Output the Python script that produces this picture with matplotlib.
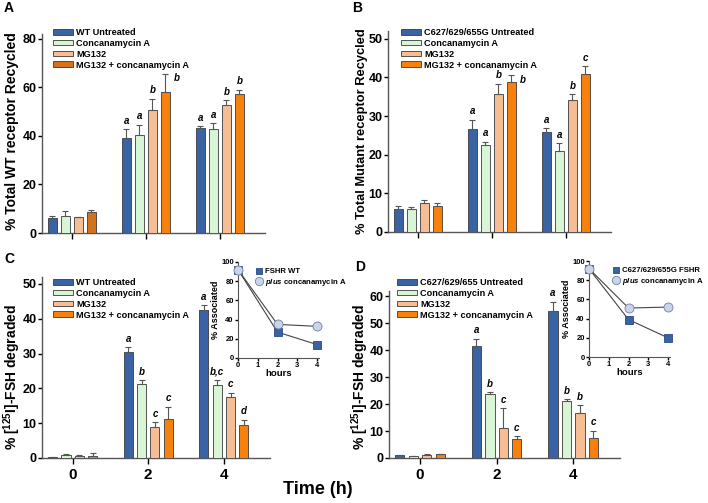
import numpy as np
import matplotlib
matplotlib.use("Agg")
import matplotlib.pyplot as plt
from matplotlib.lines import Line2D

plt.rcParams['font.family'] = ['Liberation Sans', 'DejaVu Sans']
plt.rcParams['font.weight'] = 'bold'
plt.rcParams['mathtext.fontset'] = 'custom'
plt.rcParams['mathtext.rm'] = 'Liberation Sans:bold'
plt.rcParams['mathtext.bf'] = 'Liberation Sans:bold'
plt.rcParams['mathtext.it'] = 'Liberation Sans:bold:italic'

# ---------------- data ----------------
groups = ["0", "2", "4"]
series_A = ["WT Untreated", "Concanamycin A", "MG132", "MG132 + concanamycin A"]
series_B = ["C627/629/655G Untreated", "Concanamycin A", "MG132", "MG132 + concanamycin A"]
series_C = ["WT Untreated", "Concanamycin A", "MG132", "MG132 + concanamycin A"]
series_D = ["C627/629/655 Untreated", "Concanamycin A", "MG132", "MG132 + concanamycin A"]

# values[series][group], error-bar tops[series][group]
A_vals = [[6.3, 39.2, 43.4], [7.0, 40.4, 42.8], [6.6, 50.8, 52.7], [8.5, 57.9, 57.4]]
A_errs = [[7.1, 42.8, 43.9], [8.9, 44.7, 45.2], [6.6, 55.3, 54.6], [9.6, 65.5, 59.0]]
A_lets = [["", "a", "a"], ["", "a", "a"], ["", "b", "b"], ["", "b", "b"]]

B_vals = [[6.0, 26.7, 26.0], [5.9, 22.5, 20.9], [7.6, 35.6, 34.2], [6.7, 38.7, 41.0]]
B_errs = [[6.7, 29.0, 26.8], [6.5, 23.3, 22.9], [8.3, 38.4, 35.7], [7.5, 40.5, 42.9]]
B_lets = [["", "a", "a"], ["", "a", "a"], ["", "b", "b"], ["", "b", "c"]]

C_vals = [[0.3, 30.4, 42.6], [0.9, 21.2, 21.0], [0.6, 8.9, 17.5], [0.5, 11.3, 9.6]]
C_errs = [[0.4, 31.8, 43.9], [1.1, 22.4, 22.3], [0.8, 10.2, 18.8], [1.3, 14.7, 11.0]]
C_lets = [["", "a", "a"], ["", "b", "b,c"], ["", "c", "c"], ["", "c", "d"]]

D_vals = [[1.0, 41.5, 54.4], [0.7, 23.6, 21.3], [1.1, 11.1, 16.6], [1.5, 7.0, 7.6]]
D_errs = [[1.1, 44.3, 58.0], [0.8, 24.4, 21.9], [1.4, 18.5, 19.6], [1.5, 8.0, 10.2]]
D_lets = [["", "a", "a"], ["", "b", "b"], ["", "c", "b"], ["", "c", "c"]]

hours = [0, 2, 4]
C_inset_name = ["FSHR WT", "plus concanamycin A"]
C_inset_rec = [92, 27, 14]
C_inset_conc = [92, 35, 33]
D_inset_name = ["C627/629/655G FSHR", "plus concanamycin A"]
D_inset_rec = [92, 39, 20]
D_inset_conc = [92, 51, 52]

# ---------------- style ----------------
W, H = 708, 503
colors = ['#3a63a6', '#d8f6d6', '#f7bd95', '#f8800c']
edge = '#3a3a3a'
axcol = '#555555'

fig = plt.figure(figsize=(W / 100, H / 100), dpi=100)


def fx(x):
    return x / W


def fy(y):
    return 1 - y / H


def add_ax(l, r, b, t):
    return fig.add_axes([fx(l), fy(b), fx(r - l), (b - t) / H])


def style_ax(ax, length=3, pad=1.5):
    for s in ['top', 'right']:
        ax.spines[s].set_visible(False)
    for s in ['left', 'bottom']:
        ax.spines[s].set_color(axcol)
        ax.spines[s].set_linewidth(1.0)
    ax.tick_params(colors='black', width=1.0, length=length, pad=pad, direction='out')
    for t in ax.get_xticklines() + ax.get_yticklines():
        t.set_color(axcol)


def bar_panel(ax, vals, errs, lets, ymax, yticks, show_xlabels, side=()):
    x = np.arange(len(groups))
    pitch = 0.176
    width = 0.12
    handles = []
    for i in range(4):
        xs = x + (i - 1.5) * pitch
        v = np.array(vals[i])
        e = np.array(errs[i]) - v
        b = ax.bar(xs, v, width, color=colors[i], edgecolor=edge, linewidth=0.6,
                   yerr=[np.zeros_like(e), e],
                   error_kw=dict(ecolor='#555555', elinewidth=0.8, capsize=2, capthick=0.8),
                   zorder=3)
        handles.append(b)
        for j in range(len(groups)):
            if lets[i][j]:
                if (i, j) in side:
                    ax.annotate(lets[i][j], (xs[j], errs[i][j]), xytext=(6, -3),
                                textcoords='offset points', ha='left', va='center',
                                fontsize=7, fontweight='bold', style='italic')
                else:
                    ax.annotate(lets[i][j], (xs[j], errs[i][j]), xytext=(0, 2.5),
                                textcoords='offset points', ha='center', va='bottom',
                                fontsize=7, fontweight='bold', style='italic')
    ax.set_xlim(-0.405, 2.61)
    ax.set_ylim(0, ymax)
    ax.set_yticks(yticks)
    ax.set_yticklabels([str(t) for t in yticks], fontsize=9, fontweight='bold')
    ax.set_xticks(x)
    if show_xlabels:
        ax.set_xticklabels(groups, fontsize=11, fontweight='bold')
    else:
        ax.set_xticklabels([])
    style_ax(ax, length=3, pad=1)
    ax.tick_params(axis='x', length=4, pad=3)
    return handles


def legend(handles, labels, x, y):
    fig.legend(handles, labels, loc='upper left', bbox_to_anchor=(fx(x), fy(y)),
               frameon=False, borderaxespad=0, borderpad=0, handlelength=2.2,
               handleheight=0.55, handletextpad=0.35, labelspacing=0.2,
               prop=dict(size=6.6, weight='bold'))


# Panel A
axA = add_ax(42, 265, 233, 34)
hA = bar_panel(axA, A_vals, A_errs, A_lets, 82, [0, 20, 40, 60, 80], False, side={(3, 1)})
hA[3].patches[0].set_facecolor('#d2721f')
legend(hA, series_A, 53, 28)
fig.text(fx(12), fy(131), "% Total WT receptor Recycled", rotation=90, ha='center',
         va='center', fontsize=10, fontweight='bold')

# Panel B
axB = add_ax(388, 611, 232, 31)
hB = bar_panel(axB, B_vals, B_errs, B_lets, 52, [0, 10, 20, 30, 40, 50], False, side={(3, 1)})
legend(hB, series_B, 401, 28)
fig.text(fx(362), fy(131), "% Total Mutant receptor Recycled", rotation=90, ha='center',
         va='center', fontsize=9.3, fontweight='bold')

# Panel C
axC = add_ax(42, 270, 458, 277)
hC = bar_panel(axC, C_vals, C_errs, C_lets, 52, [0, 10, 20, 30, 40, 50], True)
legend(hC, series_C, 53, 278)
fig.text(fx(12), fy(377), "% [$^{125}$I]-FSH degraded", rotation=90, ha='center',
         va='center', fontsize=10, fontweight='bold')

# Panel D
axD = add_ax(389, 620, 458, 291)
hD = bar_panel(axD, D_vals, D_errs, D_lets, 62, [0, 10, 20, 30, 40, 50, 60], True)
legend(hD, series_D, 397, 278)
fig.text(fx(360), fy(377), "% [$^{125}$I]-FSH degraded", rotation=90, ha='center',
         va='center', fontsize=10, fontweight='bold')


def inset(l, b, t, rec, conc, names, lx, ly):
    r = l + 4.1 * 19.75
    ax = add_ax(l, r, b, t)
    ax.plot(hours, rec, color='#444444', lw=0.8, marker='s', ms=5.5,
            mfc='#3a63a6', mec='#2a4a80', mew=0.6, zorder=3, clip_on=False)
    ax.plot(hours, conc, color='#444444', lw=0.8, marker='o', ms=6.5,
            mfc='#c9d3ea', mec='#7080a0', mew=0.6, zorder=3, clip_on=False)
    ax.set_xlim(0, 4.1)
    ax.set_ylim(0, 100)
    ax.set_xticks([0, 1, 2, 3, 4])
    ax.set_xticklabels(['0', '1', '2', '3', '4'], fontsize=5.5, fontweight='bold')
    ax.set_yticks([0, 20, 40, 60, 80, 100])
    ax.set_yticklabels(['0', '20', '40', '60', '80', '100'], fontsize=5.5, fontweight='bold')
    style_ax(ax, length=2, pad=1)
    for s in ['left', 'bottom']:
        ax.spines[s].set_linewidth(0.8)
    ax.set_xlabel('hours', fontsize=6.8, fontweight='bold')
    ax.set_ylabel('% Associated', fontsize=6.5, fontweight='bold')
    ax.yaxis.set_label_coords(-18 / (r - l), 0.5)
    ax.xaxis.set_label_coords(0.5, -11 / (b - t))
    h1 = Line2D([], [], ls='none', marker='s', ms=5, mfc='#3a63a6', mec='#2a4a80', mew=0.6)
    h2 = Line2D([], [], ls='none', marker='o', ms=6, mfc='#c9d3ea', mec='#7080a0', mew=0.6)
    fig.legend([h1, h2], [names[0], '$plus$ concanamycin A'], loc='upper left',
               bbox_to_anchor=(fx(lx), fy(ly)), frameon=False, borderaxespad=0,
               borderpad=0, handlelength=0.8, handletextpad=0.3, labelspacing=0.2,
               prop=dict(size=5.6, weight='bold'))
    return ax


inset(238, 358, 262, C_inset_rec, C_inset_conc, C_inset_name, 256, 268)
inset(589, 357, 261, D_inset_rec, D_inset_conc, D_inset_name, 613, 267)

# Panel letters
for lab, x, y in [("A", 9, 8), ("B", 357, 8), ("C", 9, 259), ("D", 360, 267)]:
    fig.text(fx(x), fy(y), lab, ha='center', va='center', fontsize=10, fontweight='bold')

fig.text(fx(318), fy(489), "Time (h)", ha='center', va='center', fontsize=13, fontweight='bold')

fig.savefig("out.png", dpi=100)
